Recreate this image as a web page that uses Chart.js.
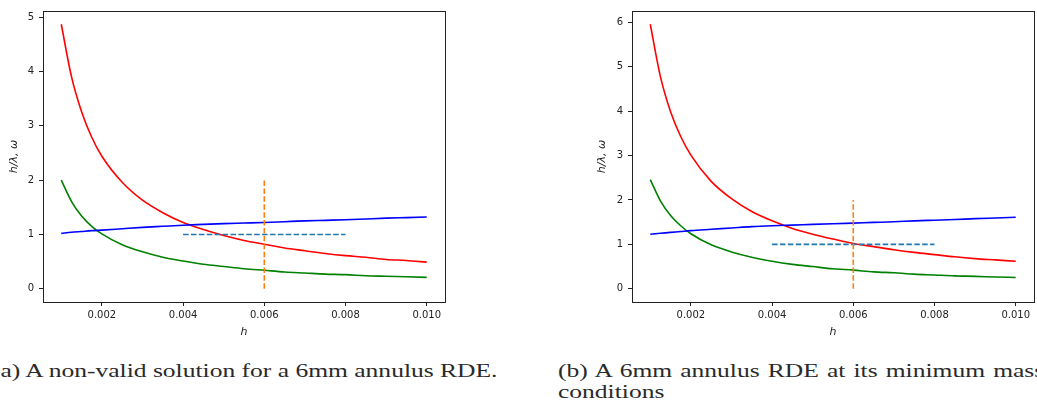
<!DOCTYPE html>
<html>
<head>
<meta charset="utf-8">
<script src="https://cdn.jsdelivr.net/npm/chart.js@4/dist/chart.umd.min.js"></script>
<style>
  html, body { margin:0; padding:0; background:#fff; width:1037px; height:406px; overflow:hidden; position:relative; }
  canvas { position:absolute; top:0; }
  #cA { left:0; }
  #cB { left:560px; }
  .cap { position:absolute; font-family:"Liberation Serif", serif; font-size:19px; color:#2a2a2a; white-space:nowrap; transform-origin:0 0; }
</style>
</head>
<body>
<canvas id="cA" width="447" height="345" style="width:447px;height:345px"></canvas>
<canvas id="cB" width="477" height="345" style="width:477px;height:345px"></canvas>
<div class="cap" id="capA" style="top:360px;"><span id="capAparen">(</span>a) A non-valid solution for a 6mm annulus RDE.</div>
<div class="cap" id="capB" style="left:558px; top:360px; word-spacing:1.3px;">(b) A 6mm annulus RDE at its minimum mass</div>
<div class="cap" id="capB2" style="left:558px; top:381px;">conditions</div>
<script>
// ---- data ----
const hValues = [0.001, 0.00125, 0.0015, 0.00175, 0.002, 0.0025, 0.003, 0.0035, 0.004, 0.0045, 0.005,
                 0.0055, 0.006, 0.0065, 0.007, 0.0075, 0.008, 0.0085, 0.009, 0.0095, 0.010];

const redA   = [4.87, 3.91, 3.26, 2.79, 2.44, 1.96, 1.63, 1.40, 1.22, 1.09, 0.98,
                0.89, 0.82, 0.75, 0.70, 0.65, 0.61, 0.58, 0.54, 0.52, 0.49];
const greenA = [2.00, 1.61, 1.34, 1.15, 1.01, 0.81, 0.68, 0.58, 0.51, 0.45, 0.41,
                0.37, 0.34, 0.31, 0.29, 0.27, 0.26, 0.24, 0.23, 0.22, 0.21];
const blueA  = [1.02, 1.04, 1.055, 1.07, 1.08, 1.105, 1.13, 1.15, 1.17, 1.185, 1.20,
                1.21, 1.22, 1.235, 1.25, 1.26, 1.27, 1.285, 1.30, 1.31, 1.32];

const redB   = [5.96, 4.78, 3.99, 3.43, 3.01, 2.42, 2.03, 1.74, 1.53, 1.36, 1.23,
                1.12, 1.02, 0.95, 0.88, 0.82, 0.77, 0.72, 0.68, 0.65, 0.62];
const greenB = [2.46, 1.98, 1.65, 1.42, 1.24, 0.99, 0.83, 0.71, 0.62, 0.55, 0.50,
                0.45, 0.42, 0.38, 0.36, 0.33, 0.31, 0.29, 0.28, 0.265, 0.255];
const blueB  = [1.23, 1.25, 1.27, 1.29, 1.31, 1.34, 1.37, 1.40, 1.42, 1.435, 1.45,
                1.465, 1.48, 1.495, 1.51, 1.53, 1.545, 1.56, 1.58, 1.595, 1.61];

// reference lines
const hLineX = [0.004, 0.008];
const hLineY = [1, 1];
const vLineX = [0.006, 0.006];
const vLineY = [0, 2];

// ticks
const xTickValues = [0.002, 0.004, 0.006, 0.008, 0.010];
const yTicksA = [0, 1, 2, 3, 4, 5];
const yTicksB = [0, 1, 2, 3, 4, 5, 6];
const xLabel = 'h';
const yLabel = 'h/λ, ω';

// ---- helpers ----
const pts = (xs, ys) => xs.map((x, i) => ({x: x, y: ys[i]}));

const frame = {
  id: 'frame',
  afterDatasetsDraw(chart) {
    const {ctx, chartArea: a} = chart;
    ctx.save();
    ctx.strokeStyle = '#222';
    ctx.lineWidth = 1;
    ctx.strokeRect(Math.round(a.left) + 0.5, Math.round(a.top) + 0.5,
                   Math.round(a.right - a.left), Math.round(a.bottom - a.top));
    ctx.restore();
  }
};

function makeChart(id, red, green, blue, yTicks, yMin, yMax, yAxisWidth, yTitlePad, padRight) {
  const tickFont = {family: 'DejaVu Sans', size: 10};
  const titleFont = {family: 'DejaVu Sans', size: 11, style: 'italic'};
  const lw = 1.6;
  return new Chart(document.getElementById(id), {
    type: 'line',
    data: {
      datasets: [
        {data: pts(vLineX, vLineY), borderColor: '#ff7f0e', borderWidth: lw, borderDash: [5.5, 2.4], pointRadius: 0, order: 0},
        {data: pts(hLineX, hLineY), borderColor: '#1f77b4', borderWidth: lw, borderDash: [5.5, 2.4], pointRadius: 0, order: 1},
        {data: pts(hValues, blue), borderColor: '#0000ff', borderWidth: lw, pointRadius: 0, cubicInterpolationMode: 'monotone', order: 2},
        {data: pts(hValues, green), borderColor: '#008000', borderWidth: lw, pointRadius: 0, cubicInterpolationMode: 'monotone', order: 3},
        {data: pts(hValues, red), borderColor: '#ff0000', borderWidth: lw, pointRadius: 0, cubicInterpolationMode: 'monotone', order: 4}
      ]
    },
    options: {
      responsive: false,
      animation: false,
      devicePixelRatio: 1,
      layout: {padding: {top: 2, right: padRight, left: 0, bottom: 0}},
      plugins: {legend: {display: false}, tooltip: {enabled: false}},
      scales: {
        x: {
          type: 'linear', min: 0.00055, max: 0.01045,
          afterBuildTicks: s => { s.ticks = xTickValues.map(v => ({value: v})); },
          afterFit: s => { s.height = 43; },
          ticks: {font: tickFont, color: '#222', padding: 3, maxRotation: 0, autoSkip: false,
                  callback: v => Number(v).toFixed(3)},
          grid: {display: true, drawOnChartArea: false, drawTicks: true, tickLength: 4, color: '#222'},
          border: {display: false},
          title: {display: true, text: xLabel, font: titleFont, color: '#222', padding: {top: 0, bottom: 6}}
        },
        y: {
          type: 'linear', min: yMin, max: yMax,
          afterBuildTicks: s => { s.ticks = yTicks.map(v => ({value: v})); },
          afterFit: s => { s.width = yAxisWidth; },
          ticks: {font: tickFont, color: '#222', padding: 5, autoSkip: false, callback: v => String(v)},
          grid: {display: true, drawOnChartArea: false, drawTicks: true, tickLength: 4, color: '#222'},
          border: {display: false},
          title: {display: true, text: yLabel, font: titleFont, color: '#222', padding: {top: yTitlePad, bottom: 0}}
        }
      }
    },
    plugins: [frame]
  });
}

makeChart('cA', redA, greenA, blueA, yTicksA, -0.2435, 5.1135, 43, 8, 2);
makeChart('cB', redB, greenB, blueB, yTicksB, -0.298, 6.258, 72, 36, 3);

// caption sizing: fit to measured widths in the reference
(function () {
  const capA = document.getElementById('capA');
  const paren = document.getElementById('capAparen');
  const full = capA.getBoundingClientRect().width;
  const pw = paren.getBoundingClientRect().width;
  const scale = 497 / (full - pw);
  capA.style.left = (-pw * scale) + 'px';
  capA.style.transform = 'scaleX(' + scale + ')';
  document.getElementById('capB').style.transform = 'scaleX(' + scale + ')';
  document.getElementById('capB2').style.transform = 'scaleX(' + scale + ')';
})();
</script>
</body>
</html>
